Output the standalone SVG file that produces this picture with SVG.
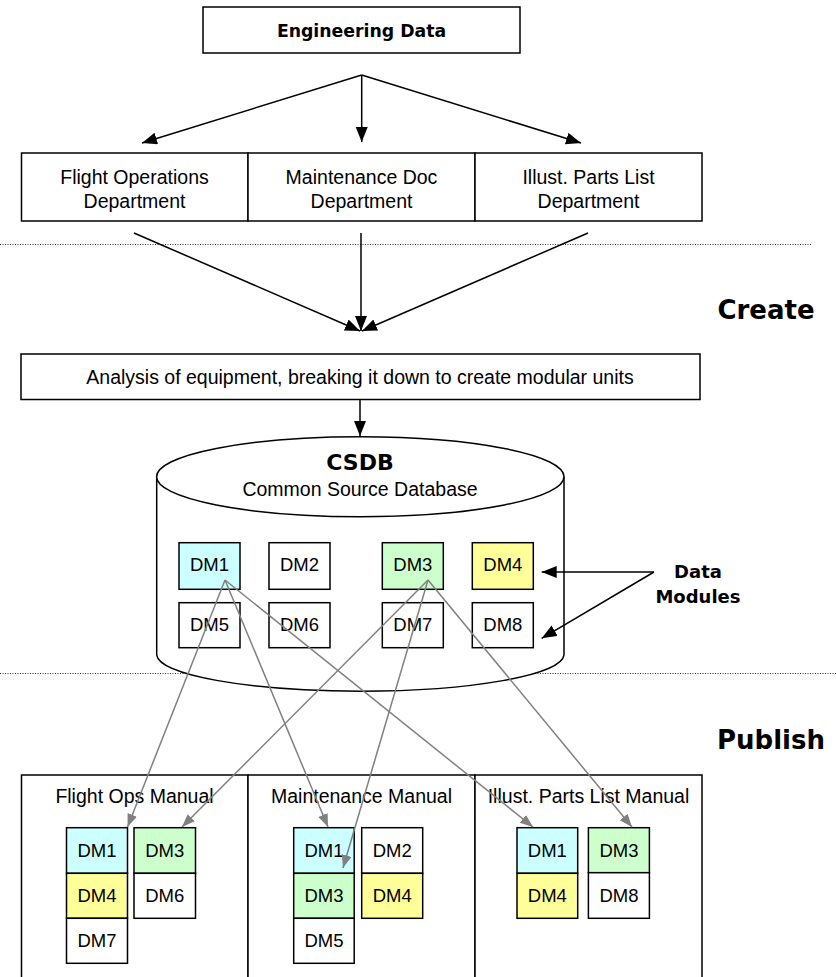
<svg xmlns="http://www.w3.org/2000/svg" width="836" height="977" viewBox="0 0 836 977">
<style>
.box{fill:#fff;stroke:#000;stroke-width:1.5}
.t{font-family:"Liberation Sans",Arial,sans-serif;font-size:19.5px;fill:#000;text-anchor:middle}
.dm{font-family:"Liberation Sans",Arial,sans-serif;font-size:18.5px;fill:#000;text-anchor:middle}
.b{font-family:"DejaVu Sans",Verdana,sans-serif;font-weight:bold;fill:#000;text-anchor:middle}
.bl{fill:none;stroke:#000;stroke-width:1.5}
.gl{fill:none;stroke:#808080;stroke-width:1.5}
.dot{fill:none;stroke:#333;stroke-width:1;stroke-dasharray:1 1.5}
.c{fill:#ccffff}.g{fill:#ccffcc}.y{fill:#ffff99}.w{fill:#fff}
.d{stroke:#000;stroke-width:1.5}
</style>
<defs>
<marker id="ab" markerUnits="userSpaceOnUse" markerWidth="16" markerHeight="14" refX="15" refY="6" orient="auto">
<path d="M0,0 L15,6 L0,12 z" fill="#000"/>
</marker>
<marker id="ag" markerUnits="userSpaceOnUse" markerWidth="14" markerHeight="12" refX="13" refY="5" orient="auto">
<path d="M0,0 L13,5 L0,10 z" fill="#808080"/>
</marker>
</defs>

<line class="dot" x1="0" y1="244.5" x2="812" y2="244.5"/>
<line class="dot" x1="0" y1="673.5" x2="836" y2="673.5"/>

<g id="engineering-data">
<rect class="box" x="203" y="7" width="317" height="46"/>
<text class="b" x="361.5" y="36.5" font-size="17.3">Engineering Data</text>
</g>

<g id="dept-flight-ops">
<rect class="box" x="21.5" y="153" width="226.5" height="68"/>
<text class="t" x="134.5" y="183.5">Flight Operations</text>
<text class="t" x="134.5" y="207.5">Department</text>
</g>
<g id="dept-maintenance">
<rect class="box" x="248" y="153" width="227" height="68"/>
<text class="t" x="361.5" y="183.5">Maintenance Doc</text>
<text class="t" x="361.5" y="207.5">Department</text>
</g>
<g id="dept-ipl">
<rect class="box" x="475" y="153" width="227" height="68"/>
<text class="t" x="588.5" y="183.5">Illust. Parts List</text>
<text class="t" x="588.5" y="207.5">Department</text>
</g>

<g id="label-create"><text class="b" x="766" y="318.5" font-size="26">Create</text></g>
<g id="label-publish"><text class="b" x="771" y="748.5" font-size="26">Publish</text></g>

<g id="analysis">
<rect class="box" x="21" y="354" width="679" height="45.5"/>
<text class="t" x="360" y="383.5" font-size="20">Analysis of equipment, breaking it down to create modular units</text>
</g>

<g id="csdb">
<path d="M156.7,476.7 L156.7,655 A203.7,37 0 0 0 564,655 L564,476.7" fill="#fff" stroke="#000" stroke-width="1.5"/>
<ellipse cx="360.3" cy="476.7" rx="203.7" ry="40" fill="#fff" stroke="#000" stroke-width="1.5"/>
<text class="b" x="360" y="470" font-size="22">CSDB</text>
<text class="t" x="360" y="496">Common Source Database</text>
</g>

<g id="csdb-dm1"><rect class="c d" x="179" y="542.7" width="61" height="46.6"/><text class="dm" x="209.5" y="571">DM1</text></g>
<g id="csdb-dm2"><rect class="w d" x="269" y="542.7" width="61" height="46.6"/><text class="dm" x="299.5" y="571">DM2</text></g>
<g id="csdb-dm3"><rect class="g d" x="382.3" y="542.7" width="61" height="46.6"/><text class="dm" x="412.8" y="571">DM3</text></g>
<g id="csdb-dm4"><rect class="y d" x="472.3" y="542.7" width="61" height="46.6"/><text class="dm" x="502.8" y="571">DM4</text></g>
<g id="csdb-dm5"><rect class="w d" x="179" y="602.7" width="61" height="45"/><text class="dm" x="209.5" y="631">DM5</text></g>
<g id="csdb-dm6"><rect class="w d" x="269" y="602.7" width="61" height="45"/><text class="dm" x="299.5" y="631">DM6</text></g>
<g id="csdb-dm7"><rect class="w d" x="382.3" y="602.7" width="61" height="45"/><text class="dm" x="412.8" y="631">DM7</text></g>
<g id="csdb-dm8"><rect class="w d" x="472.3" y="602.7" width="61" height="45"/><text class="dm" x="502.8" y="631">DM8</text></g>

<g id="data-modules-label">
<text class="b" x="698" y="578" font-size="18">Data</text>
<text class="b" x="698" y="603" font-size="18">Modules</text>
</g>

<g id="manual-flight-ops">
<rect class="box" x="21.5" y="775" width="226.5" height="210"/>
<text class="t" x="134.5" y="803">Flight Ops Manual</text>
<rect class="c d" x="66.5" y="827.7" width="61" height="45.6"/><text class="dm" x="97" y="856.5">DM1</text>
<rect class="y d" x="66.5" y="873.3" width="61" height="45"/><text class="dm" x="97" y="901.5">DM4</text>
<rect class="w d" x="66.5" y="918.3" width="61" height="45"/><text class="dm" x="97" y="946.5">DM7</text>
<rect class="g d" x="134" y="827.7" width="61.5" height="45.6"/><text class="dm" x="164.7" y="856.5">DM3</text>
<rect class="w d" x="134" y="873.3" width="61.5" height="45"/><text class="dm" x="164.7" y="901.5">DM6</text>
</g>
<g id="manual-maintenance">
<rect class="box" x="248" y="775" width="227" height="210"/>
<text class="t" x="361.5" y="803">Maintenance Manual</text>
<rect class="c d" x="293.7" y="827.7" width="60.5" height="45.6"/><text class="dm" x="324" y="856.5">DM1</text>
<rect class="g d" x="293.7" y="873.3" width="60.5" height="45"/><text class="dm" x="324" y="901.5">DM3</text>
<rect class="w d" x="293.7" y="918.3" width="60.5" height="45"/><text class="dm" x="324" y="946.5">DM5</text>
<rect class="w d" x="361.7" y="827.7" width="61" height="45.6"/><text class="dm" x="392.2" y="856.5">DM2</text>
<rect class="y d" x="361.7" y="873.3" width="61" height="45"/><text class="dm" x="392.2" y="901.5">DM4</text>
</g>
<g id="manual-ipl">
<rect class="box" x="475" y="775" width="227" height="210"/>
<text class="t" x="588.5" y="803">Illust. Parts List Manual</text>
<rect class="c d" x="517" y="827.7" width="60.7" height="45.6"/><text class="dm" x="547.3" y="856.5">DM1</text>
<rect class="y d" x="517" y="873.3" width="60.7" height="45"/><text class="dm" x="547.3" y="901.5">DM4</text>
<rect class="g d" x="588.4" y="827.7" width="61" height="45"/><text class="dm" x="619" y="856.5">DM3</text>
<rect class="w d" x="588.4" y="872.7" width="61" height="45.6"/><text class="dm" x="619" y="901.5">DM8</text>
</g>

<g id="connectors">
<line class="bl" x1="361.7" y1="75" x2="142" y2="143" marker-end="url(#ab)"/>
<line class="bl" x1="361.7" y1="75" x2="361.7" y2="142" marker-end="url(#ab)"/>
<line class="bl" x1="361.7" y1="75" x2="581" y2="143" marker-end="url(#ab)"/>
<line class="bl" x1="134" y1="233" x2="360" y2="331" marker-end="url(#ab)"/>
<line class="bl" x1="361" y1="233" x2="361" y2="331" marker-end="url(#ab)"/>
<line class="bl" x1="588" y1="233" x2="362" y2="331" marker-end="url(#ab)"/>
<line class="bl" x1="360" y1="399.5" x2="360" y2="436" marker-end="url(#ab)"/>
<line class="bl" x1="654" y1="572" x2="541.7" y2="572" marker-end="url(#ab)"/>
<line class="bl" x1="654" y1="572" x2="541.7" y2="638.3" marker-end="url(#ab)"/>
<line class="gl" x1="225" y1="580" x2="127.5" y2="827" marker-end="url(#ag)"/>
<line class="gl" x1="225" y1="580" x2="328" y2="827" marker-end="url(#ag)"/>
<line class="gl" x1="225" y1="580" x2="533" y2="827" marker-end="url(#ag)"/>
<line class="gl" x1="428" y1="580" x2="182" y2="827" marker-end="url(#ag)"/>
<line class="gl" x1="428" y1="580" x2="343" y2="868" marker-end="url(#ag)"/>
<line class="gl" x1="428" y1="580" x2="632" y2="827" marker-end="url(#ag)"/>
</g>
</svg>
